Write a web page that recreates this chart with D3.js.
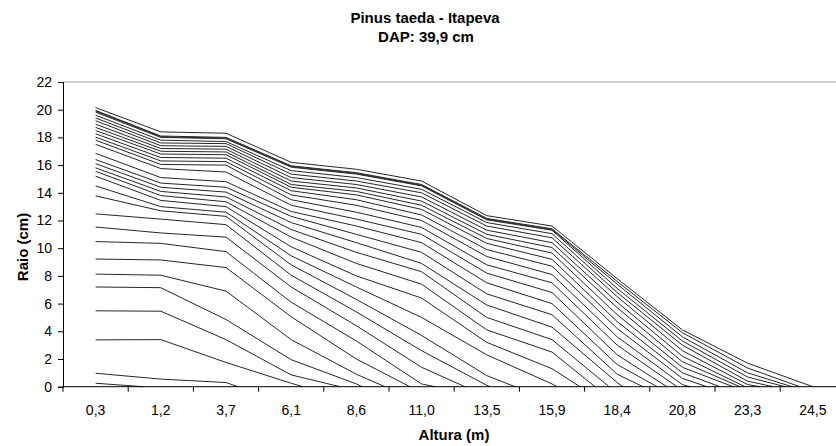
<!DOCTYPE html>
<html>
<head>
<meta charset="utf-8">
<script src="https://cdn.jsdelivr.net/npm/d3@7"></script>
<style>
  html, body { margin: 0; padding: 0; background: #fff; }
  svg { display: block; font-family: "Liberation Sans", Arial, sans-serif; }
</style>
</head>
<body>
<svg id="chart" width="836" height="446"></svg>
<script>
// Stem analysis sections: height of each disc (m) and its axis label
const sectionHeights = [0.3, 1.2, 3.7, 6.1, 8.6, 11.0, 13.5, 15.9, 18.4, 20.8, 23.3, 24.5];
const sectionLabels = ["0,3", "1,2", "3,7", "6,1", "8,6", "11,0", "13,5", "15,9", "18,4", "20,8", "23,3", "24,5"];
const radiusTicks = [0, 2, 4, 6, 8, 10, 12, 14, 16, 18, 20, 22];

// Ring radii (cm) on each disc, from the bark inwards (oldest ring first)
const disc03 = [20.15, 19.95, 19.9, 19.82, 19.6, 19.4, 19.2, 18.95, 18.72, 18.5, 18.26, 18.02, 17.8, 17.5, 16.85, 16.4,
                16.1, 15.8, 15.55, 15.2, 14.5, 13.78, 12.48, 11.53, 10.48, 9.22, 8.13, 7.2, 5.48, 3.38, 0.97, 0.25];
const disc12 = [18.4, 18.1, 18.05, 18.0, 17.8, 17.6, 17.4, 17.2, 17.0, 16.8, 16.55, 16.3, 16.05, 15.75, 15.1, 14.7,
                14.4, 14.1, 13.8, 13.45, 13.0, 12.7, 12.1, 11.1, 10.35, 9.15, 8.05, 7.15, 5.45, 3.4, 0.55];
const disc37 = [18.3, 18.0, 17.95, 17.9, 17.7, 17.55, 17.35, 17.15, 16.95, 16.75, 16.5, 16.25, 16.0, 15.5, 14.8, 14.4,
                14.05, 13.7, 13.35, 13.0, 12.6, 12.3, 11.7, 10.8, 9.75, 8.6, 6.9, 4.85, 3.4, 1.75, 0.3];
const disc61 = [16.2, 15.95, 15.9, 15.85, 15.6, 15.35, 15.1, 14.85, 14.6, 14.4, 14.15, 13.85, 13.5, 13.1, 12.65, 12.3,
                11.85, 11.35, 10.8, 10.1, 9.45, 8.8, 8.05, 7.2, 6.1, 5.05, 3.4, 1.95, 0.85, 0.25];
const disc86 = [15.7, 15.45, 15.4, 15.35, 15.1, 14.85, 14.6, 14.35, 14.1, 13.85, 13.5, 13.1, 12.6, 12.1, 11.6, 11.0,
                10.4, 9.7, 8.9, 8.0, 7.2, 6.3, 5.4, 4.4, 3.3, 2.0, 0.9, 0.2];
const disc110 = [14.85, 14.6, 14.55, 14.5, 14.25, 14.0, 13.7, 13.4, 13.1, 12.8, 12.4, 12.0, 11.5, 11.0, 10.4, 9.7,
                 8.9, 8.3, 7.4, 6.4, 5.0, 3.7, 2.6, 1.4, 0.2];
const disc135 = [12.35, 12.15, 12.1, 12.05, 11.85, 11.6, 11.3, 11.0, 10.7, 10.35, 9.9, 9.4, 8.8, 8.2, 7.5, 6.7,
                 5.9, 5.0, 4.1, 3.2, 2.3, 0.8, 0.1];
const disc159 = [11.6, 11.4, 11.35, 11.3, 11.05, 10.75, 10.4, 10.05, 9.65, 9.2, 8.7, 8.1, 7.5, 6.8, 6.0, 5.2,
                 4.3, 3.4, 2.5, 1.3, 0.2];
const disc184 = [7.8, 7.6, 7.4, 7.1, 6.8, 6.5, 6.1, 5.7, 5.2, 4.7, 4.2, 3.6, 3.0, 2.3, 1.6, 0.9, 0.3];
const disc208 = [4.1, 3.9, 3.6, 3.3, 3.0, 2.6, 2.2, 1.8, 1.4, 1.0, 0.6, 0.15];
const disc233 = [1.7, 1.35, 1.0, 0.7, 0.4, 0.15];
const disc245 = [];

// Total tree height (m) reached at each age, same order as the rings above
const ageHeights = [24.5, 24.26, 24.12, 23.99, 23.77, 23.53, 23.2, 23.0, 22.74, 22.24, 21.74, 21.09, 20.6, 20.23, 19.87, 19.35,
                    18.61, 18.09, 17.55, 16.97, 16.09, 14.54, 13.62, 12.66, 11.51, 10.57, 9.65, 8.81, 7.97, 6.55, 4.14, 0.95];

const discs = [disc03, disc12, disc37, disc61, disc86, disc110, disc135, disc159, disc184, disc208, disc233, disc245];

const svg = d3.select("#chart");
const plot = { left: 63, top: 82, bottom: 386.7, step: 65.2 };

// Category axis: one band per disc
const xBand = d3.scaleBand()
  .domain(sectionLabels)
  .range([plot.left, plot.left + plot.step * sectionLabels.length])
  .paddingInner(0).paddingOuter(0);

// Heights map piecewise onto the band centres
const xHeight = d3.scaleLinear()
  .domain(sectionHeights)
  .range(sectionLabels.map(l => xBand(l) + xBand.bandwidth() / 2));

const y = d3.scaleLinear().domain([0, 22]).range([plot.bottom, plot.top]);

// Top frame line of the plot area
svg.append("line")
  .attr("x1", plot.left).attr("x2", 836)
  .attr("y1", y(22)).attr("y2", y(22))
  .attr("stroke", "#a0a0a0").attr("stroke-width", 1);

// Ring profiles, one line per age
const line = d3.line().x(d => xHeight(d[0])).y(d => y(d[1]));
const profiles = ageHeights.map((h, k) => {
  const pts = [];
  discs.forEach((disc, j) => {
    if (k < disc.length) pts.push([sectionHeights[j], disc[k]]);
  });
  pts.push([h, 0]);
  return pts;
});

svg.append("g")
  .selectAll("path")
  .data(profiles)
  .join("path")
  .attr("d", line)
  .attr("fill", "none")
  .attr("stroke", "#262626")
  .attr("stroke-width", 1);

// Y axis
const yAxis = svg.append("g")
  .attr("transform", `translate(${plot.left},0)`)
  .call(d3.axisLeft(y).tickValues(radiusTicks).tickSize(5).tickPadding(6).tickFormat(d3.format("d")));
yAxis.select(".domain").attr("stroke", "#000");
yAxis.selectAll(".tick line").attr("stroke", "#000");
yAxis.selectAll("text").attr("font-size", 14).attr("fill", "#000").attr("font-family", "Liberation Sans, Arial, sans-serif");

// X axis: labels centred in each band, tick marks on band edges
const xAxis = svg.append("g")
  .attr("transform", `translate(0,${plot.bottom})`);
xAxis.append("line")
  .attr("x1", plot.left).attr("x2", 836)
  .attr("y1", 0).attr("y2", 0)
  .attr("stroke", "#000");
xAxis.selectAll("line.tick")
  .data(sectionLabels)
  .join("line")
  .attr("class", "tick")
  .attr("x1", d => xBand(d)).attr("x2", d => xBand(d))
  .attr("y1", 0).attr("y2", 5)
  .attr("stroke", "#000");
xAxis.selectAll("text")
  .data(sectionLabels)
  .join("text")
  .attr("x", d => xBand(d) + xBand.bandwidth() / 2)
  .attr("y", 28)
  .attr("text-anchor", "middle")
  .attr("font-size", 14)
  .attr("fill", "#000")
  .text(d => d);

// Titles
svg.append("text")
  .attr("x", 425).attr("y", 22.5)
  .attr("text-anchor", "middle")
  .attr("font-size", 15).attr("font-weight", "bold")
  .text("Pinus taeda - Itapeva");
svg.append("text")
  .attr("x", 426).attr("y", 41.5)
  .attr("text-anchor", "middle")
  .attr("font-size", 15).attr("font-weight", "bold")
  .text("DAP: 39,9 cm");

svg.append("text")
  .attr("x", 454).attr("y", 440)
  .attr("text-anchor", "middle")
  .attr("font-size", 15).attr("font-weight", "bold")
  .text("Altura (m)");

svg.append("text")
  .attr("transform", "translate(28,247) rotate(-90)")
  .attr("text-anchor", "middle")
  .attr("font-size", 15).attr("font-weight", "bold")
  .text("Raio (cm)");
</script>
</body>
</html>
